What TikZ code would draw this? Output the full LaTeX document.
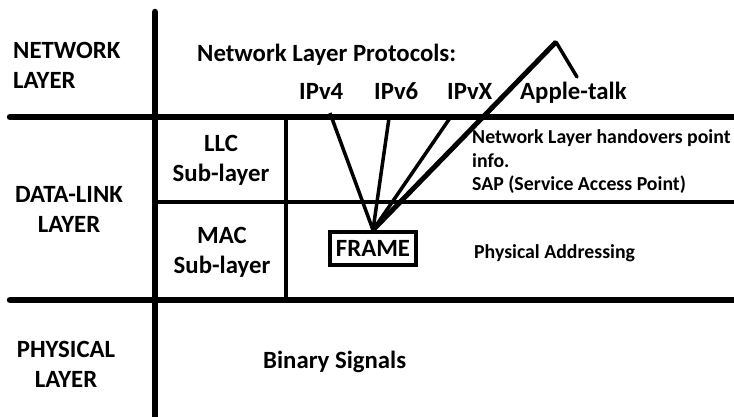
\documentclass[tikz,border=0pt]{standalone}
\usepackage{fontspec}
\setmainfont{Carlito}
\begin{document}
\begin{tikzpicture}[x=1pt,y=-1pt,
  thickline/.style={line width=6.5pt, line cap=round},
  thinline/.style={line width=4pt},
  conn/.style={line width=3.5pt},
  bigconn/.style={line width=5pt},
  big/.style={font=\bfseries\fontsize{24.8}{30}\selectfont, inner sep=0pt},
  small/.style={font=\bfseries\fontsize{19.8}{23.5}\selectfont, inner sep=0pt},
  framebox/.style={draw, line width=4pt, minimum width=86pt, minimum height=33pt, inner sep=0pt}
]
\useasboundingbox (0,0) rectangle (734,417);
\clip (0,0) rectangle (734,417);
\fill[white] (0,0) rectangle (734,417);

% grid lines
\draw[thickline] (155,12) -- (155,440);
\draw[thickline] (10,117) -- (760,117);
\draw[thickline] (10,300) -- (760,300);
\draw[thinline] (155,202) -- (760,202);
\draw[thinline] (286,117) -- (286,300);

% layer labels (base anchor = baseline of last line)
\node[big, anchor=base west, align=left] (netlayer) at (13,89) {NETWORK\\LAYER};
\node[big, anchor=base, align=center] (dllayer) at (69,233) {DATA-LINK\\LAYER};
\node[big, anchor=base, align=center] (phylayer) at (66,387) {PHYSICAL\\LAYER};

\node[big, anchor=base, align=center] (llc) at (221,182) {LLC\\Sub-layer};
\node[big, anchor=base, align=center] (mac) at (222,273) {MAC\\Sub-layer};

\node[big, anchor=base west] (nlp) at (197,62) {Network Layer Protocols:};
\node[big, anchor=base west] (ipv4) at (299,100) {IPv4};
\node[big, anchor=base west] (ipv6) at (374,100) {IPv6};
\node[big, anchor=base west] (ipvx) at (447,100) {IPvX};
\node[big, anchor=base west] (apple) at (520,100) {Apple-talk};

\node[big, anchor=base west] (binary) at (263,368) {Binary Signals};

\node[small, anchor=base west, align=left] (handover) at (472,190.5) {Network Layer handovers point\\info.\\SAP (Service Access Point)};
\node[small, anchor=base west] (phyaddr) at (474,258) {Physical Addressing};

\node[big, framebox] (frame) at (373,248.5) {FRAME};

% connectors
\coordinate (v4end) at (330,113);
\coordinate (v6end) at (389,118);
\coordinate (vxend) at (450,118);
\coordinate (peak) at (556,42);
\coordinate (apend) at (577,77);

\draw[conn] (frame.north) -- (v4end);
\draw[conn] (frame.north) -- (v6end);
\draw[conn] (frame.north) -- (vxend);
\draw[bigconn] (frame.north) -- (peak);
\draw[conn, line cap=round] (peak) -- (apend);
\end{tikzpicture}
\end{document}
